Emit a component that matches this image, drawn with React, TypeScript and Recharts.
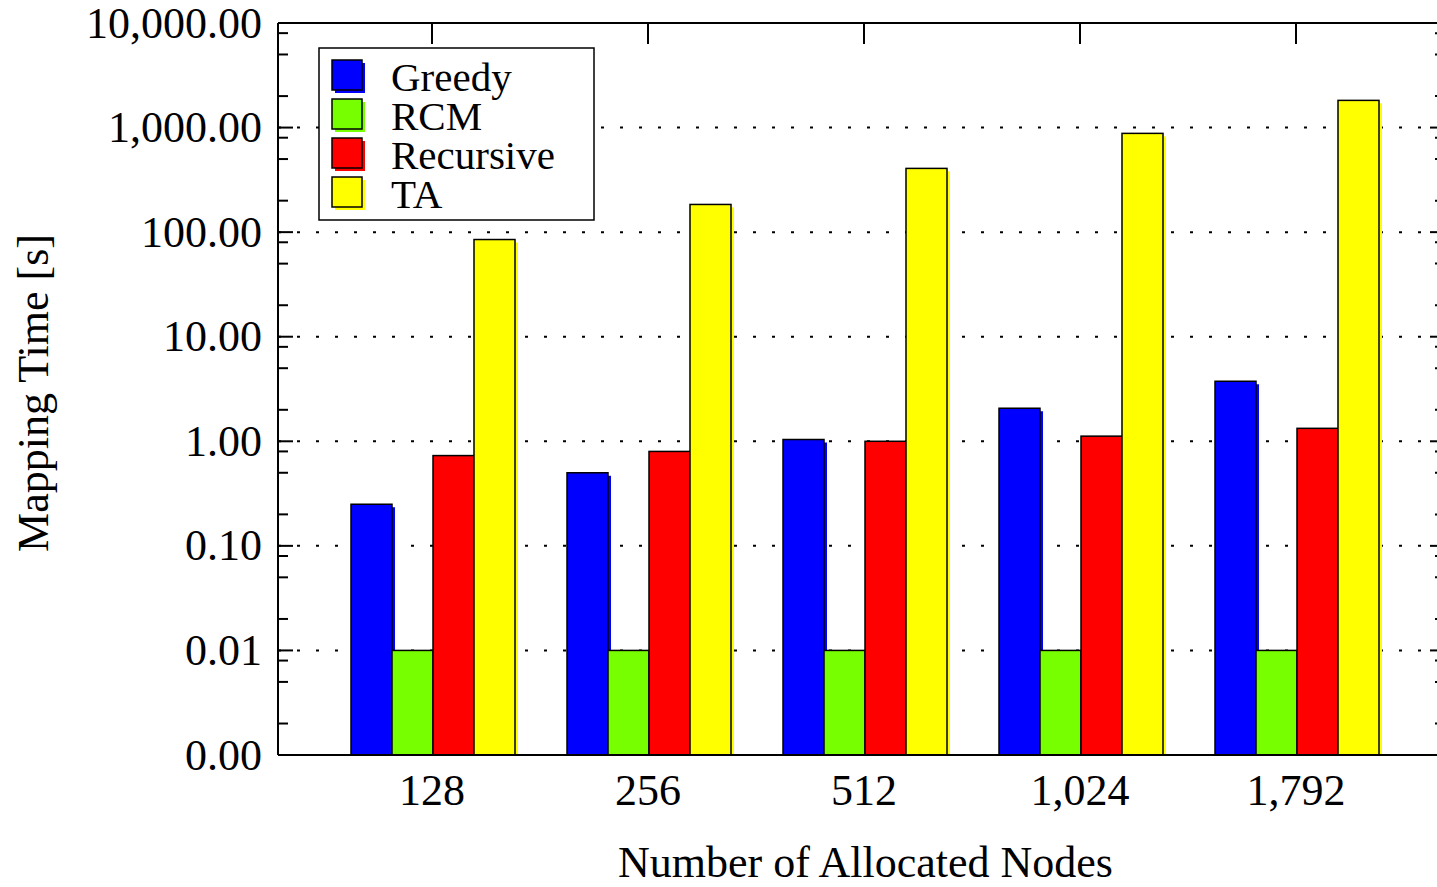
import React from "react";
import { BarChart, Bar, XAxis, YAxis, CartesianGrid, Legend } from "recharts";

const nodes = ["128", "256", "512", "1,024", "1,792"];
const greedy = [0.25, 0.5, 1.04, 2.07, 3.75];
const rcm = [0.01, 0.01, 0.01, 0.01, 0.01];
const recursive = [0.73, 0.8, 1.0, 1.12, 1.33];
const ta = [85, 184, 407, 880, 1820];

const majorTicks = [0.001, 0.01, 0.1, 1, 10, 100, 1000, 10000];
const minorTicks = [
  0.002, 0.005, 0.008, 0.02, 0.05, 0.08, 0.2, 0.5, 0.8, 2, 5, 8, 20, 50, 80,
  200, 500, 800, 2000, 5000, 8000,
];
const allTicks = [...majorTicks, ...minorTicks];

const series = [
  { key: "Greedy", color: "#0000ff" },
  { key: "RCM", color: "#77ff00" },
  { key: "Recursive", color: "#ff0000" },
  { key: "TA", color: "#ffff00" },
];

const data = nodes.map((n, i) => ({
  nodes: n,
  Greedy: greedy[i],
  RCM: rcm[i],
  Recursive: recursive[i],
  TA: ta[i],
}));

const FONT = '"Liberation Serif", "Times New Roman", serif';

const fmt = (v: number) =>
  v.toLocaleString("en-US", { minimumFractionDigits: 2, maximumFractionDigits: 2 });

const isMajor = (v: number) => majorTicks.includes(v);

const LeftTick = (props: any) => {
  const { x, y, payload } = props;
  const v = payload.value;
  const major = isMajor(v);
  return (
    <g>
      <line x1={x} x2={x + (major ? 15 : 10)} y1={y} y2={y} stroke="#000" strokeWidth={2} />
      {major && (
        <text
          x={x - 16}
          y={y}
          textAnchor="end"
          dominantBaseline="central"
          fontSize={44}
          fontFamily={FONT}
          fill="#000"
        >
          {fmt(v)}
        </text>
      )}
    </g>
  );
};

const RightTick = (props: any) => {
  const { x, y, payload } = props;
  const major = isMajor(payload.value);
  return <line x1={x} x2={x - (major ? 15 : 10)} y1={y} y2={y} stroke="#000" strokeWidth={2} />;
};

const TopTick = (props: any) => {
  const { x, y } = props;
  return <line x1={x} x2={x} y1={y} y2={y + 21} stroke="#000" strokeWidth={2} />;
};

const shadowBar = (color: string) => (props: any) => {
  const { x, y, width, height } = props;
  if (!height || height <= 0) return <g />;
  return (
    <g>
      <rect x={x + 3} y={y + 3} width={width} height={Math.max(height - 3, 0)} fill={color} />
      <rect x={x} y={y} width={width} height={height} fill={color} stroke="#000" strokeWidth={1.5} />
    </g>
  );
};

const LegendBox = () => (
  <svg width={278} height={176} style={{ display: "block" }}>
    <rect x={1} y={1} width={275} height={172} fill="#fff" stroke="#000" strokeWidth={1.5} />
    {series.map((s, i) => (
      <g key={s.key}>
        <rect x={17} y={16 + 39 * i} width={30} height={30} fill={s.color} />
        <rect
          x={14}
          y={13 + 39 * i}
          width={30}
          height={30}
          fill={s.color}
          stroke="#000"
          strokeWidth={1.5}
        />
        <text x={73} y={44 + 39 * i} fontSize={41} fontFamily={FONT} fill="#000">
          {s.key}
        </text>
      </g>
    ))}
  </svg>
);

const YLabel = (props: any) => {
  const { viewBox } = props;
  const cx = viewBox.x + 48;
  const cy = viewBox.y + viewBox.height / 2 + 4;
  return (
    <text
      x={cx}
      y={cy}
      transform={`rotate(-90 ${cx} ${cy})`}
      textAnchor="middle"
      fontSize={44}
      fontFamily={FONT}
      fill="#000"
    >
      Mapping Time [s]
    </text>
  );
};

const XLabel = (props: any) => {
  const { viewBox } = props;
  return (
    <text
      x={viewBox.x + viewBox.width / 2 + 4}
      y={viewBox.y + 122}
      textAnchor="middle"
      fontSize={44}
      fontFamily={FONT}
      fill="#000"
    >
      Number of Allocated Nodes
    </text>
  );
};

function App() {
  return (
    <div
      style={{
        position: "absolute",
        left: 0,
        top: 0,
        width: 1437,
        height: 887,
        overflow: "hidden",
        background: "#fff",
        fontFamily: FONT,
      }}
    >
      <BarChart
        width={1460}
        height={887}
        data={data}
        margin={{ top: 22, right: 14, bottom: 0, left: 0 }}
        barCategoryGap={27}
        barGap={0}
      >
        <CartesianGrid
          vertical={false}
          horizontalValues={majorTicks}
          stroke="#000"
          strokeWidth={2}
          strokeDasharray="3 16"
        />
        <XAxis
          dataKey="nodes"
          height={132}
          padding={{ left: 46, right: 41 }}
          axisLine={{ stroke: "#000", strokeWidth: 2 }}
          tickLine={false}
          tickSize={0}
          tickMargin={19}
          interval={0}
          tick={{ fill: "#000", fontSize: 44, fontFamily: FONT }}
          label={{ content: XLabel }}
        />
        <XAxis
          xAxisId="top"
          orientation="top"
          dataKey="nodes"
          height={1}
          padding={{ left: 46, right: 41 }}
          axisLine={{ stroke: "#000", strokeWidth: 2 }}
          tickLine={false}
          tickSize={0}
          tickMargin={0}
          interval={0}
          tick={TopTick}
        />
        <YAxis
          type="number"
          scale="log"
          domain={[0.001, 10000]}
          allowDataOverflow
          ticks={allTicks}
          interval={0}
          width={278}
          axisLine={{ stroke: "#000", strokeWidth: 2 }}
          tickLine={false}
          tickSize={0}
          tickMargin={0}
          tick={LeftTick}
          label={{ content: YLabel }}
        />
        <YAxis
          yAxisId="right"
          orientation="right"
          type="number"
          scale="log"
          domain={[0.001, 10000]}
          allowDataOverflow
          ticks={allTicks}
          interval={0}
          width={1}
          axisLine={{ stroke: "#000", strokeWidth: 2 }}
          tickLine={false}
          tickSize={0}
          tickMargin={0}
          tick={RightTick}
        />
        <Legend
          layout="vertical"
          align="center"
          verticalAlign="middle"
          content={LegendBox}
          wrapperStyle={{ position: "absolute", left: 318, top: 47, width: 278, height: 176 }}
        />
        {series.map((s) => (
          <Bar
            key={s.key}
            dataKey={s.key}
            fill={s.color}
            stroke="#000"
            shape={shadowBar(s.color)}
            isAnimationActive={false}
          />
        ))}
      </BarChart>
    </div>
  );
}

export default App;
